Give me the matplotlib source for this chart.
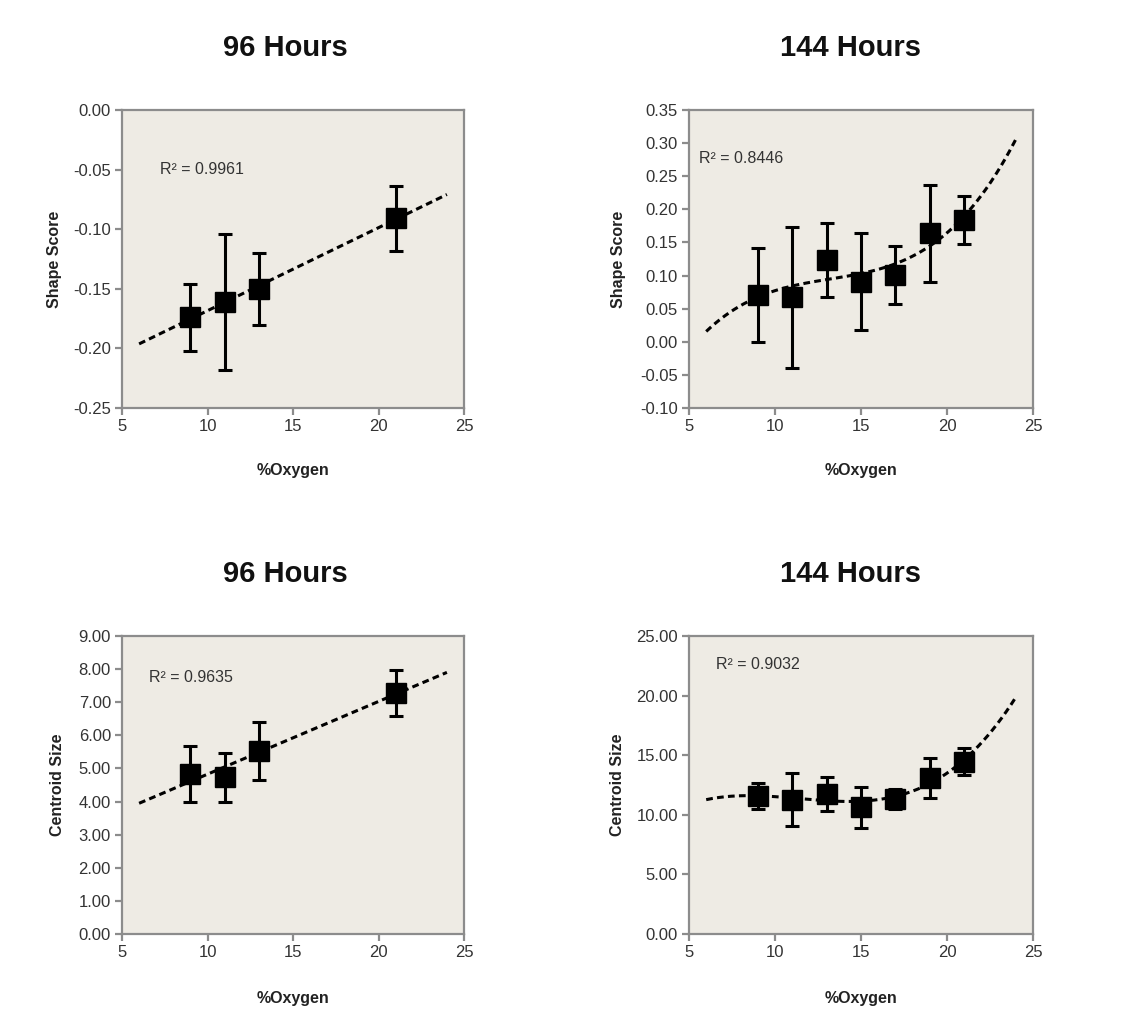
import numpy as np
import matplotlib
matplotlib.use("Agg")
import matplotlib.pyplot as plt

plt.rcParams['font.family'] = ['Liberation Sans', 'DejaVu Sans']

# Oxygen levels
oxygen_96 = [9, 11, 13, 21]
oxygen_144 = [9, 11, 13, 15, 17, 19, 21]

# Shape score means and error
shape_96 = [-0.174, -0.161, -0.150, -0.091]
shape_96_err = [0.028, 0.057, 0.030, 0.027]
shape_144 = [0.071, 0.067, 0.123, 0.091, 0.101, 0.164, 0.184]
shape_144_err = [0.071, 0.106, 0.056, 0.073, 0.044, 0.073, 0.036]

# Centroid size means and error
size_96 = [4.84, 4.73, 5.53, 7.28]
size_96_err = [0.85, 0.74, 0.87, 0.69]
size_144 = [11.58, 11.26, 11.76, 10.62, 11.35, 13.10, 14.45]
size_144_err = [1.08, 2.24, 1.43, 1.74, 0.85, 1.65, 1.15]

r2_labels = ["R² = 0.9961", "R² = 0.8446", "R² = 0.9635", "R² = 0.9032"]
titles = ["96 Hours", "144 Hours", "96 Hours", "144 Hours"]
ylabels = ["Shape Score", "Shape Score", "Centroid Size", "Centroid Size"]

W, H = 1144, 1031
fig = plt.figure(figsize=(W / 100, H / 100), dpi=100)
fig.patch.set_facecolor('white')

panels = [
    dict(x=oxygen_96, y=shape_96, e=shape_96_err, deg=1, ylim=(-0.25, 0.0), step=0.05,
         box=(122, 110, 464, 408), r2pos=(7.2, -0.05)),
    dict(x=oxygen_144, y=shape_144, e=shape_144_err, deg=3, ylim=(-0.10, 0.35), step=0.05,
         box=(689, 110, 1033, 408), r2pos=(5.6, 0.277)),
    dict(x=oxygen_96, y=size_96, e=size_96_err, deg=1, ylim=(0.0, 9.0), step=1.0,
         box=(122, 636, 464, 934), r2pos=(6.55, 7.76)),
    dict(x=oxygen_144, y=size_144, e=size_144_err, deg=3, ylim=(0.0, 25.0), step=5.0,
         box=(689, 636, 1033, 934), r2pos=(6.55, 22.65)),
]

title_pos = [(285, 48), (850, 48), (285, 574), (850, 574)]
ylabel_x = [55, 619, 58, 618]
xlabel_y = [470, 470, 999, 999]

spine_col = '#8c8c8c'
text_col = '#333333'


def two_dp(v, pos):
    v = round(v, 6) + 0.0
    return f'{v:.2f}'.replace('-0.00', '0.00')


for i, p in enumerate(panels):
    l, t, r, b = p['box']
    ax = fig.add_axes([l / W, 1 - b / H, (r - l) / W, (b - t) / H])
    ax.set_facecolor('#eeebe4')
    for side in ['top', 'right', 'bottom', 'left']:
        ax.spines[side].set_color(spine_col)
        ax.spines[side].set_linewidth(1.6)

    # polynomial trend line over the 6-24 % oxygen range
    coef = np.polyfit(p['x'], p['y'], p['deg'])
    xs = np.linspace(6, 24, 200)
    ax.plot(xs, np.polyval(coef, xs), color='black', lw=2.2,
            linestyle=(0, (2.2, 1.4)), zorder=2)

    ax.errorbar(p['x'], p['y'], yerr=p['e'], fmt='s', color='black',
                markersize=14, ecolor='black', elinewidth=2.2, capsize=5,
                capthick=2.2, zorder=3)

    ax.set_xlim(5, 25)
    ax.set_ylim(*p['ylim'])
    ax.set_xticks([5, 10, 15, 20, 25])
    ax.set_yticks(np.arange(p['ylim'][0], p['ylim'][1] + p['step'] / 2, p['step']))
    ax.yaxis.set_major_formatter(matplotlib.ticker.FuncFormatter(two_dp))
    ax.tick_params(direction='out', length=5, width=1.6, color=spine_col,
                   labelsize=12, labelcolor=text_col, pad=3)

    ax.text(p['r2pos'][0], p['r2pos'][1], r2_labels[i], fontsize=11.5,
            color=text_col, ha='left', va='center')

    tx, ty = title_pos[i]
    fig.text(tx / W, 1 - ty / H, titles[i], fontsize=21, fontweight='bold',
             ha='center', va='center', color='#111111')
    fig.text(ylabel_x[i] / W, 1 - ((t + b) / 2) / H, ylabels[i], fontsize=11.5,
             fontweight='bold', rotation=90, ha='center', va='center',
             color='#222222')
    fig.text(((l + r) / 2) / W, 1 - xlabel_y[i] / H, '%Oxygen', fontsize=11.5,
             fontweight='bold', ha='center', va='center', color='#222222')

fig.savefig('out.png', dpi=100)
